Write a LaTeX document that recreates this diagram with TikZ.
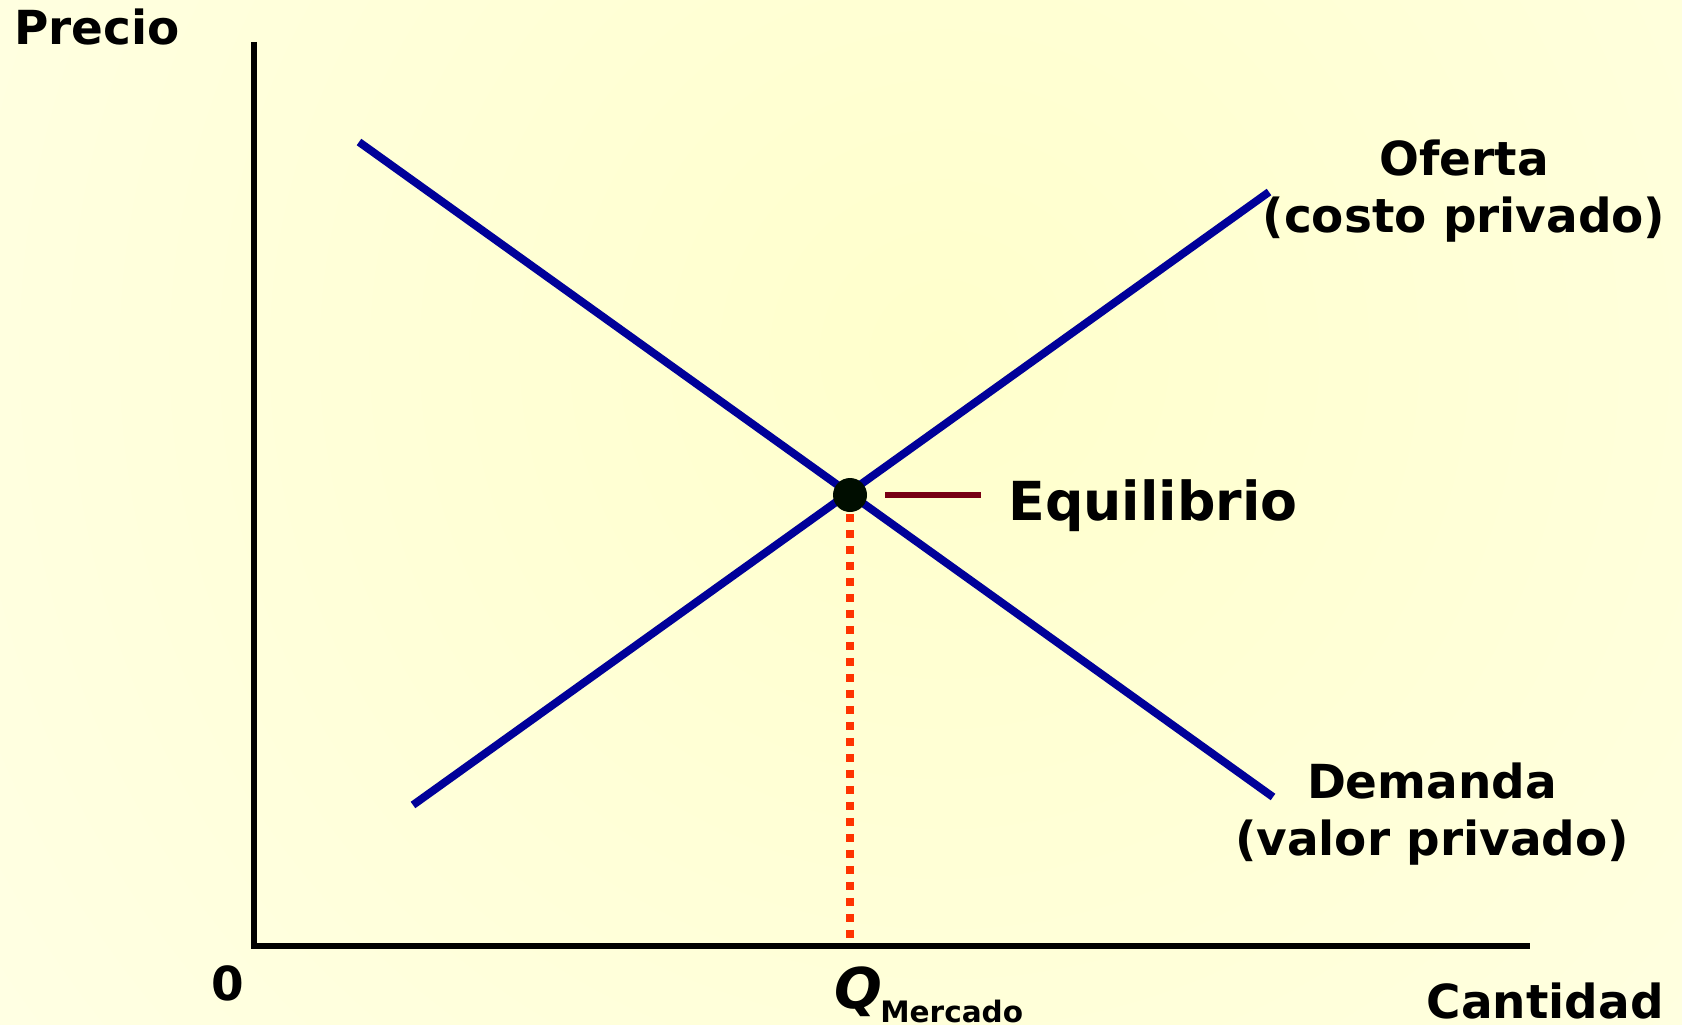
\documentclass[tikz,border=0pt]{standalone}
\usepackage{fontspec}
\setmainfont{DejaVu Sans}
\usepackage{xcolor}
\definecolor{curveblue}{RGB}{0,0,153}
\definecolor{eqred}{RGB}{120,0,20}
\definecolor{dotorange}{RGB}{255,51,0}
\definecolor{bgcenter}{RGB}{255,255,204}
\definecolor{bgedge}{RGB}{255,255,240}

\begin{document}
\begin{tikzpicture}[x=0.02cm,y=-0.02cm,
  curve/.style={curveblue,line width=4.5pt},
  axis/.style={black,line width=3.4pt},
  lbl/.style={inner sep=0pt,font=\fontsize{26.7}{32}\selectfont\bfseries}]

\useasboundingbox (0,0) rectangle (1682,1024);

% Background
\fill[bgedge] (0,0) rectangle (1682,1024);
\begin{scope}
  \clip (0,0) rectangle (1682,1024);
  \shade[inner color=bgcenter,outer color=bgedge] (944,354) circle (1800);
\end{scope}

% Axes
\coordinate (top) at (254,42);
\coordinate (origin) at (254,946);
\coordinate (right) at (1530,946);
\draw[axis] (top) -- (origin) -- (right);

% Supply and demand
\coordinate (d1) at (359,142);
\coordinate (d2) at (1273,797);
\coordinate (s1) at (413,805);
\coordinate (s2) at (1269,192);
\draw[curve] (d1) -- (d2);
\draw[curve] (s1) -- (s2);

% Equilibrium
\coordinate (eq) at (850,495);
\coordinate (qtop) at (850,498);
\coordinate (qbot) at (850,938);
\draw[dotorange,line width=5pt,dash pattern=on 0.16cm off 0.16cm] (qtop) -- (qbot);
\fill[black!95!green] (eq) circle (17);
\coordinate (tick1) at (885,495);
\coordinate (tick2) at (981,495);
\draw[eqred,line width=3.4pt] (tick1) -- (tick2);
\node[lbl,anchor=base west,font=\fontsize{30.6}{36}\selectfont\bfseries] (equil) at (1008,520) {Equilibrio};

% Labels
\node[lbl,anchor=base west] (precio) at (14,45) {Precio};
\node[lbl,anchor=base east] (cantidad) at (1664,1018) {Cantidad};
\node[lbl,anchor=base] (zero) at (228,1000) {0};
\node[lbl,anchor=base] (oferta) at (1464,175) {Oferta};
\node[lbl,anchor=base] (ofertasub) at (1464,232) {(costo privado)};
\node[lbl,anchor=base] (demanda) at (1432,798) {Demanda};
\node[lbl,anchor=base] (demandasub) at (1432,855) {(valor privado)};
\node[lbl,anchor=base west,font=\fontsize{32}{36}\selectfont\bfseries\itshape] (qm) at (834,1008) {Q};
\node[lbl,anchor=base west,font=\fontsize{16.8}{20}\selectfont\bfseries] (mercado) at (880,1022) {Mercado};

\end{tikzpicture}
\end{document}
